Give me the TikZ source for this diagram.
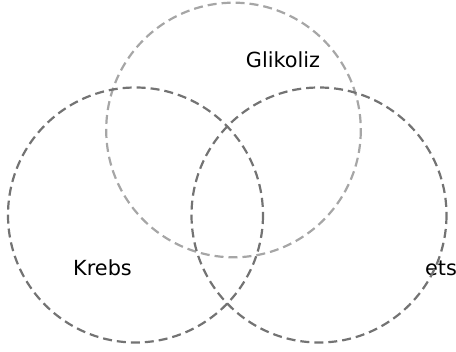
\documentclass[tikz,border=0pt]{standalone}
\usepackage{fontspec}
\setmainfont{DejaVu Sans}
\begin{document}
\begin{tikzpicture}[x=1pt,y=-1pt,
  lbl/.style={font=\fontsize{20.8}{25}\selectfont,text=black,inner sep=0pt},
  ring/.style={line width=2.2pt,dash pattern=on 9pt off 5pt},
  ringdark/.style={ring,draw=black!55},
  ringlight/.style={ring,draw=black!35}]
\useasboundingbox (0,0) rectangle (456,352);
\node[lbl,anchor=base] (glik) at (283,68) {Glikoliz};
\node[lbl,anchor=base] (krebs) at (102.5,276) {Krebs};
\node[lbl,anchor=base west] (ets) at (425,276) {ets};
\draw[ringlight] (233.5,130) circle[radius=127.3];
\draw[ringdark] (135.5,215) circle[radius=127.5];
\draw[ringdark] (319,215) circle[radius=127.5];
\end{tikzpicture}
\end{document}
